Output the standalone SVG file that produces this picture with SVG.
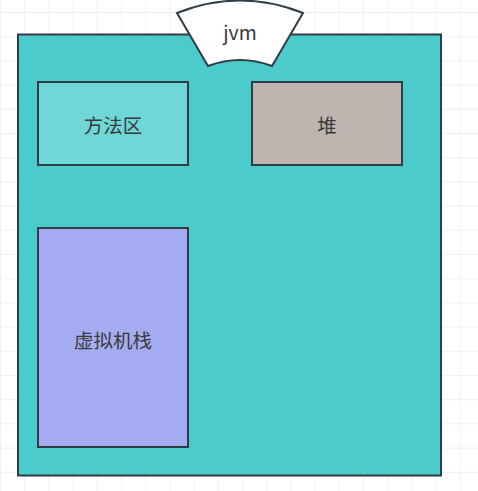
<svg xmlns="http://www.w3.org/2000/svg" width="478" height="491" viewBox="0 0 478 491">
<style>
.box{stroke:#2f3d47;stroke-width:2}
.lbl{font-family:"Noto Sans CJK SC","Noto Sans",sans-serif;font-size:19.5px;fill:#3a3a3a;text-anchor:middle;dominant-baseline:central}
</style>
<defs>
<pattern id="grid" x="0" y="12" width="24.2" height="24.2" patternUnits="userSpaceOnUse">
<path d="M0 0H24.2M0 0V24.2" fill="none" stroke="#ebebeb" stroke-width="1.5"/>
</pattern>
</defs>
<rect width="478" height="491" fill="#ffffff"/>
<rect width="478" height="491" fill="url(#grid)"/>
<g id="jvm-container">
<rect class="box" x="18" y="34.5" width="423" height="441" fill="#4ccbcd"/>
</g>
<g id="jvm-title">
<path class="box" d="M177 13 Q240 -12 303 13 L272 66 Q240 54 208 66 Z" fill="#ffffff"/>
<text class="lbl" x="240" y="31">jvm</text>
</g>
<g id="method-area">
<rect class="box" x="38" y="82" width="150" height="83" fill="#6fd7d7"/>
<text class="lbl" x="113" y="124">方法区</text>
</g>
<g id="heap">
<rect class="box" x="252" y="82" width="150" height="83" fill="#bfb4af"/>
<text class="lbl" x="327" y="124">堆</text>
</g>
<g id="vm-stack">
<rect class="box" x="38" y="228" width="150" height="219" fill="#a5acf2"/>
<text class="lbl" x="113" y="339">虚拟机栈</text>
</g>
<g id="connectors"/>
</svg>
